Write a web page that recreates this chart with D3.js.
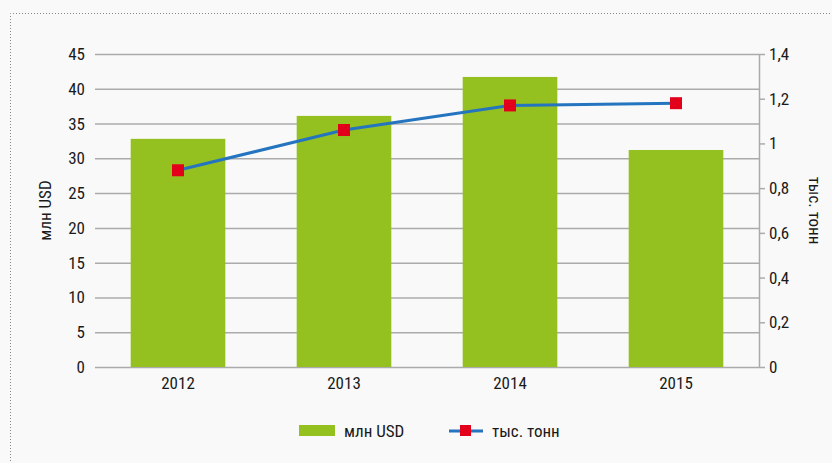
<!DOCTYPE html>
<html><head><meta charset="utf-8">
<script src="https://cdn.jsdelivr.net/npm/d3@7"></script>
<style>
body{margin:0;background:#f9f9f9;}
svg{display:block;}
text{font-family:"Liberation Sans Narrow","Roboto Condensed",Roboto,sans-serif;fill:#1a1a1a;}
</style></head>
<body>
<svg id="c" width="832" height="463"></svg>
<script>
const years = ["2012","2013","2014","2015"];
const usd = [32.8, 36.1, 41.7, 31.2];
const tonnes = [0.88, 1.06, 1.17, 1.18];
const leftTicks = [0,5,10,15,20,25,30,35,40,45];
const rightTicks = [0,0.2,0.4,0.6,0.8,1,1.2,1.4];
const leftTitle = "млн USD";
const rightTitle = "тыс. тонн";

const svg = d3.select("#c");
svg.append("rect").attr("width",832).attr("height",463).attr("fill","#f9f9f9");
// dotted frame
svg.append("path").attr("d","M10.5,470 V13.5 H840")
  .attr("fill","none").attr("stroke","#888").attr("stroke-width",1).attr("stroke-dasharray","1,2");

const L=95, R=759, T=54, B=367;
const x = d3.scaleBand().domain(years).range([L,R]).paddingInner(0.43).paddingOuter(0.215);
const y = d3.scaleLinear().domain([0,45]).range([B,T]);
const y2 = d3.scaleLinear().domain([0,1.4]).range([B,T]);

// gridlines
svg.append("g").selectAll("line").data(leftTicks).join("line")
  .attr("x1",L).attr("x2",R).attr("y1",d=>y(d)+0.5).attr("y2",d=>y(d)+0.5)
  .attr("stroke","#ababab").attr("stroke-width",1.5);

// bars
svg.append("g").selectAll("rect").data(usd).join("rect")
  .attr("x",(d,i)=>x(years[i])).attr("width",x.bandwidth())
  .attr("y",d=>y(d)).attr("height",d=>B-y(d)).attr("fill","#94c11f");

// left axis
const la = svg.append("g").attr("transform",`translate(${L},0)`)
  .call(d3.axisLeft(y).tickValues(leftTicks).tickSize(0).tickPadding(10));
la.select(".domain").remove();
la.selectAll("text").attr("font-size",17).style("font-family",null);

// right axis
const ra = svg.append("g").attr("transform",`translate(${R},0)`)
  .call(d3.axisRight(y2).tickValues(rightTicks).tickSize(6).tickPadding(4)
    .tickFormat(d=>d3.format("~g")(d).replace(".",",")));
ra.select(".domain").attr("stroke","#ababab").attr("stroke-width",1.5).attr("d",`M0.5,${T}V${B+0.5}`);
ra.selectAll(".tick line").attr("stroke","#ababab").attr("stroke-width",1.5);
ra.selectAll("text").attr("font-size",17).style("font-family",null);

// x labels
const xa = svg.append("g").attr("transform",`translate(0,${B})`)
  .call(d3.axisBottom(x).tickSize(0).tickPadding(10));
xa.select(".domain").remove();
xa.selectAll("text").attr("font-size",17).style("font-family",null);

// line
const cx = i => x(years[i]) + x.bandwidth()/2;
svg.append("path").datum(tonnes)
  .attr("d", d3.line().x((d,i)=>cx(i)).y(d=>y2(d)))
  .attr("fill","none").attr("stroke","#2474c0").attr("stroke-width",3);
svg.append("g").selectAll("rect").data(tonnes).join("rect")
  .attr("x",(d,i)=>cx(i)-6).attr("y",d=>y2(d)-6).attr("width",12).attr("height",12)
  .attr("fill","#e3001b");

// axis titles
svg.append("text").attr("transform",`translate(51,${(T+B)/2}) rotate(-90)`)
  .attr("text-anchor","middle").attr("font-size",17).text(leftTitle);
svg.append("text").attr("transform",`translate(809,${(T+B)/2}) rotate(90)`)
  .attr("text-anchor","middle").attr("font-size",17).text(rightTitle);

// legend
const lg = svg.append("g");
lg.append("rect").attr("x",299).attr("y",425).attr("width",36).attr("height",11).attr("fill","#94c11f");
lg.append("text").attr("x",344).attr("y",437).attr("font-size",17).text(leftTitle);
lg.append("line").attr("x1",449).attr("x2",483).attr("y1",431).attr("y2",431)
  .attr("stroke","#2474c0").attr("stroke-width",3);
lg.append("rect").attr("x",460).attr("y",425).attr("width",11).attr("height",11).attr("fill","#e3001b");
lg.append("text").attr("x",492).attr("y",437).attr("font-size",17).text(rightTitle);
</script>
</body></html>
